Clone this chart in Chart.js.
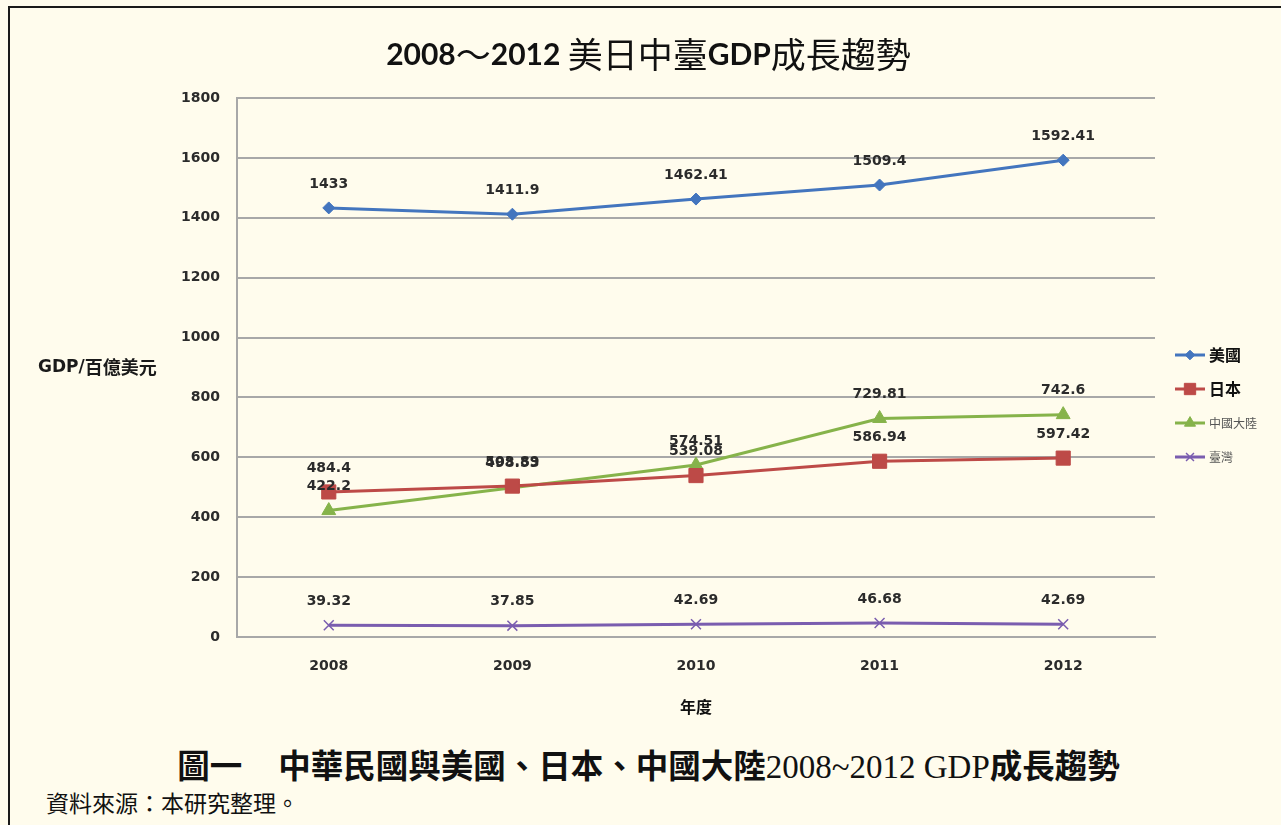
<!DOCTYPE html>
<html>
<head>
<meta charset="utf-8">
<script src="https://cdn.jsdelivr.net/npm/chart.js@4.4.1/dist/chart.umd.min.js"></script>
<style>
  html, body { margin: 0; padding: 0; }
  body { width: 1281px; height: 825px; background: #FFFCED; overflow: hidden; position: relative; }
  #frame { position: absolute; left: 8px; top: 6px; width: 1300px; height: 900px;
           border-top: 2px solid #1a1a1a; border-left: 2px solid #1a1a1a; }
  #wrap { position: absolute; left: 0; top: 0; width: 1281px; height: 730px; }
  #caption { position: absolute; left: 0; width: 1297px; top: 741px; text-align: center;
             font-family: "Noto Sans CJK TC", sans-serif; font-weight: bold; font-size: 32.5px;
             color: #111; white-space: nowrap; line-height: 46px; }
  #caption .gap { display: inline-block; width: 36px; }
  #caption .latin { font-family: "Liberation Serif", serif; font-weight: normal; font-size: 33px; }
  #source { position: absolute; left: 46px; top: 785px; font-family: "Noto Sans CJK TC", sans-serif;
            font-size: 23px; color: #111; white-space: nowrap; }
</style>
</head>
<body>
<div id="frame"></div>
<div id="wrap"><canvas id="gdpChart"></canvas></div>
<div id="caption">圖一<span class="gap"></span>中華民國與美國、日本、中國大陸<span class="latin">2008~2012 GDP</span>成長趨勢</div>
<div id="source">資料來源：本研究整理。</div>
<script>
// 2008~2012 GDP (百億美元)
const years = ['2008', '2009', '2010', '2011', '2012'];
const seriesNames = ['美國', '日本', '中國大陸', '臺灣'];
const usGdp = [1433, 1411.9, 1462.41, 1509.4, 1592.41];
const japanGdp = [484.4, 503.89, 539.08, 586.94, 597.42];
const chinaGdp = [422.2, 498.53, 574.51, 729.81, 742.6];
const taiwanGdp = [39.32, 37.85, 42.69, 46.68, 42.69];

// title is mixed: bold latin, plain CJK
const titleParts = [
    ['2008', 'latin'], ['～', 'cjk'], ['2012 ', 'latin'],
    ['美日中臺', 'cjk'], ['GDP', 'latin'], ['成長趨勢', 'cjk']
];

const tickFont = { family: '"DejaVu Sans", sans-serif', size: 14, weight: 'bold' };

const mixedTitle = {
    id: 'mixedTitle',
    afterDraw(chart) {
        const ctx = chart.ctx;
        const fonts = {
            latin: 'bold 30px Lato, sans-serif',
            cjk: '35px "Noto Sans CJK TC", sans-serif'
        };
        ctx.save();
        ctx.fillStyle = '#111';
        ctx.textBaseline = 'middle';
        ctx.textAlign = 'left';
        let total = 0;
        titleParts.forEach(p => { ctx.font = fonts[p[1]]; total += ctx.measureText(p[0]).width; });
        let x = chart.width / 2 + 8 - total / 2;
        titleParts.forEach(p => {
            ctx.font = fonts[p[1]];
            ctx.fillText(p[0], x, 55);
            x += ctx.measureText(p[0]).width;
        });
        ctx.restore();
    }
};

// value labels above each point
const valueLabels = {
    id: 'valueLabels',
    afterDatasetsDraw(chart) {
        const ctx = chart.ctx;
        ctx.save();
        ctx.font = 'bold 14px "DejaVu Sans", sans-serif';
        ctx.fillStyle = '#2b2b2b';
        ctx.textAlign = 'center';
        ctx.textBaseline = 'middle';
        chart.data.datasets.forEach((ds, i) => {
            chart.getDatasetMeta(i).data.forEach((pt, j) => {
                ctx.fillText(String(ds.data[j]), pt.x, pt.y - 24);
            });
        });
        ctx.restore();
    }
};

// horizontal y-axis title on the left
const yTitle = {
    id: 'yTitle',
    afterDraw(chart) {
        const ctx = chart.ctx;
        const a = chart.chartArea;
        const y = (a.top + a.bottom) / 2;
        ctx.save();
        ctx.fillStyle = '#1a1a1a';
        ctx.textAlign = 'left';
        ctx.textBaseline = 'middle';
        ctx.font = 'bold 17px "DejaVu Sans", sans-serif';
        ctx.fillText('GDP/', 38, y);
        const w = ctx.measureText('GDP/').width;
        ctx.font = 'bold 18px "Noto Sans CJK TC", sans-serif';
        ctx.fillText('百億美元', 38 + w, y);
        ctx.restore();
    }
};

// legend on the right: line + marker + name
const sideLegend = {
    id: 'sideLegend',
    afterDraw(chart) {
        const ctx = chart.ctx;
        const a = chart.chartArea;
        const x0 = a.right + 20;
        chart.data.datasets.forEach((ds, i) => {
            const y = a.top + 257 + i * 34;
            ctx.save();
            ctx.strokeStyle = ds.borderColor;
            ctx.lineWidth = 3;
            ctx.beginPath();
            ctx.moveTo(x0, y);
            ctx.lineTo(x0 + 30, y);
            ctx.stroke();
            ctx.fillStyle = ds.pointBackgroundColor;
            ctx.strokeStyle = ds.pointBorderColor;
            ctx.lineWidth = ds.pointBorderWidth;
            Chart.helpers.drawPoint(ctx, {
                pointStyle: ds.pointStyle,
                radius: ds.pointRadius * 0.8,
                rotation: 0,
                borderWidth: ds.pointBorderWidth
            }, x0 + 15, y);
            if (i < 2) {
                ctx.font = 'bold 16px "Noto Sans CJK TC", sans-serif';
                ctx.fillStyle = '#111';
            } else {
                ctx.font = '12px "Noto Sans CJK TC", sans-serif';
                ctx.fillStyle = '#555';
            }
            ctx.textAlign = 'left';
            ctx.textBaseline = 'middle';
            ctx.fillText(seriesNames[i], x0 + 34, y);
            ctx.restore();
        });
    }
};

function makeSeries(label, data, color, style, radius, bw) {
    return {
        label,
        data,
        borderColor: color,
        backgroundColor: color,
        borderWidth: 3,
        pointStyle: style,
        pointRadius: radius,
        pointHoverRadius: radius,
        pointBackgroundColor: color,
        pointBorderColor: color,
        pointBorderWidth: bw,
        tension: 0
    };
}

new Chart(document.getElementById('gdpChart'), {
    type: 'line',
    data: {
        labels: years,
        datasets: [
            makeSeries(seriesNames[0], usGdp, '#4375BE', 'rectRot', 6, 1),
            makeSeries(seriesNames[1], japanGdp, '#BD4A47', 'rect', 10, 1),
            makeSeries(seriesNames[2], chinaGdp, '#86B34A', 'triangle', 8, 1),
            makeSeries(seriesNames[3], taiwanGdp, '#7A5DAF', 'crossRot', 7, 1.5)
        ]
    },
    options: {
        responsive: true,
        maintainAspectRatio: false,
        animation: false,
        layout: { padding: { top: 98, left: 164, right: 126, bottom: 9 } },
        plugins: {
            legend: { display: false },
            tooltip: { enabled: false },
            title: { display: false }
        },
        scales: {
            x: {
                offset: true,
                grid: { display: false, drawTicks: false },
                border: { display: true, color: '#a8a8a8', width: 2 },
                ticks: { color: '#2b2b2b', font: tickFont, padding: 21 },
                title: {
                    display: true,
                    text: '年度',
                    color: '#111',
                    font: { family: '"Noto Sans CJK TC", sans-serif', size: 16, weight: 'bold' },
                    padding: { top: 2, bottom: 4 }
                }
            },
            y: {
                min: 0,
                max: 1800,
                ticks: {
                    stepSize: 200, color: '#2b2b2b', font: tickFont, padding: 17,
                    callback: v => String(v)
                },
                grid: { color: '#a8a8a8', lineWidth: 2, drawTicks: false },
                border: { display: true, color: '#a8a8a8', width: 2 }
            }
        }
    },
    plugins: [valueLabels, yTitle, sideLegend, mixedTitle]
});
</script>
</body>
</html>
